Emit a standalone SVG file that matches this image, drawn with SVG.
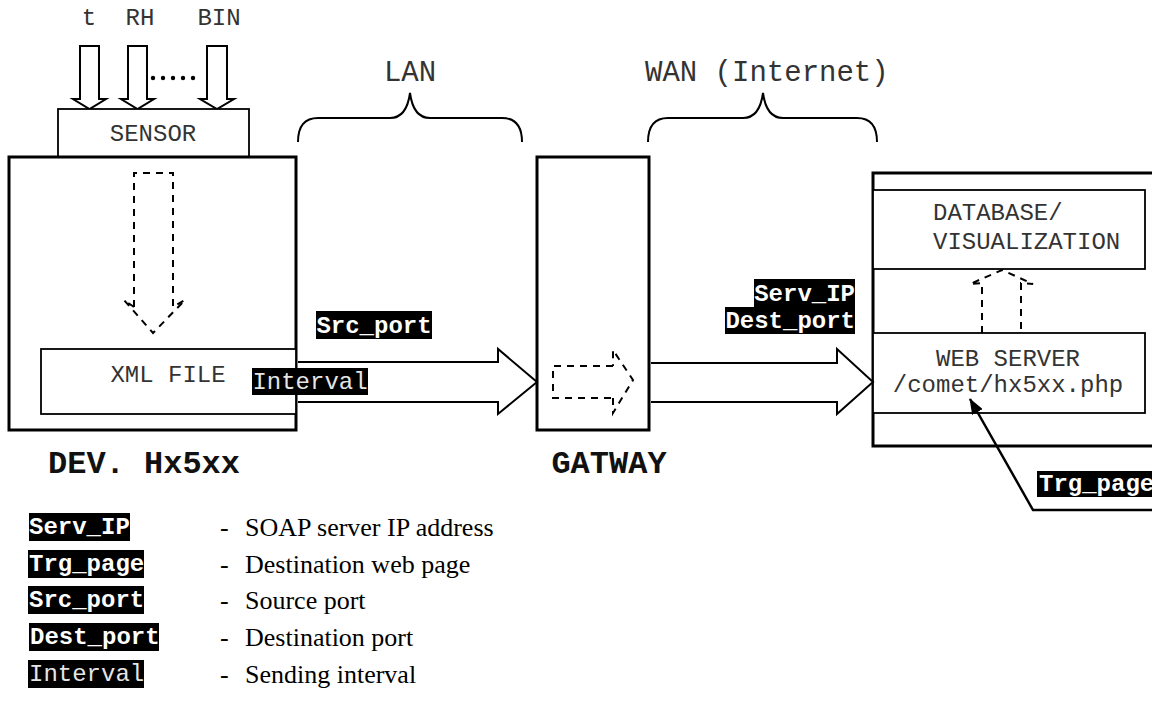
<svg xmlns="http://www.w3.org/2000/svg" width="1152" height="711" viewBox="0 0 1152 711">
<style>
.mono{font-family:"Liberation Mono","Courier New",monospace;fill:#333;font-size:24px}
.big{font-size:29px}
.bold{font-family:"Liberation Mono","Courier New",monospace;font-weight:bold;fill:#111;font-size:32px}
.tag{fill:#000}
.tagt{font-family:"Liberation Mono","Courier New",monospace;font-weight:bold;fill:#fff;font-size:24px}
.tagi{font-family:"Liberation Mono","Courier New",monospace;fill:#e6e6e6;font-size:24px}
.ser{font-family:"Liberation Serif","Times New Roman",serif;fill:#000;font-size:26px}
.box{fill:#fff;stroke:#000}
.thick{stroke-width:3}
.thin{stroke-width:1.8}
.ln{fill:none;stroke:#000;stroke-width:2}
.dash{fill:none;stroke:#000;stroke-width:2;stroke-dasharray:7,6}
.hollow{fill:#fff;stroke:#000;stroke-width:2;stroke-linejoin:miter}
</style>
<defs>
<marker id="ah" markerWidth="16" markerHeight="12" refX="15" refY="6" orient="auto" markerUnits="userSpaceOnUse" viewBox="0 0 16 12"><path d="M0,0 L16,6 L0,12 Z" fill="#000"/></marker>
</defs>
<rect width="1152" height="711" fill="#fff"/>

<g id="inputs">
<text class="mono" x="89" y="25" text-anchor="middle">t</text>
<text class="mono" x="140" y="25" text-anchor="middle">RH</text>
<text class="mono" x="219" y="25" text-anchor="middle">BIN</text>
<path class="hollow" d="M80,46 H99 V99 H106 L89.5,109 L73,99 H80 Z"/>
<path class="hollow" d="M128,46 H147 V99 H154 L137.5,109 L121,99 H128 Z"/>
<path class="hollow" d="M207,46 H227 V99 H234 L217,109 L200,99 H207 Z"/>
<g fill="#000"><circle cx="153" cy="78" r="2.2"/><circle cx="163" cy="78" r="2.2"/><circle cx="173" cy="78" r="2.2"/><circle cx="183" cy="78" r="2.2"/><circle cx="193" cy="78" r="2.2"/></g>
</g>

<g id="sensor">
<rect class="box thin" x="58" y="109" width="191" height="48"/>
<text class="mono" x="153" y="141" text-anchor="middle">SENSOR</text>
</g>

<g id="device">
<rect class="box thick" x="9" y="157" width="287" height="273"/>
<path class="dash" d="M134,307 V173 H173 V307 L185,300"/>
<path class="dash" d="M134,307 L124,300 L153,333 L185,300"/>
<rect class="box thin" x="41" y="349" width="255" height="65"/>
<text class="mono" x="168" y="382" text-anchor="middle">XML FILE</text>
<text class="bold" x="144" y="473" text-anchor="middle">DEV. Hx5xx</text>
</g>

<g id="gateway">
<rect class="box thick" x="537" y="157" width="112" height="273"/>
<path class="dash" d="M613,366 H553 V398 H613 M613,398 V413 L633,380 L613,350 V366"/>
<text class="bold" x="609" y="473" text-anchor="middle">GATWAY</text>
</g>

<g id="server">
<rect class="box thick" x="873" y="173" width="290" height="273"/>
<rect class="box thin" x="873" y="190" width="272" height="79"/>
<text class="mono" x="933" y="220">DATABASE/</text>
<text class="mono" x="933" y="249">VISUALIZATION</text>
<path class="dash" d="M982,333 V283 L970,284 L1002,270 L1033,284 L1021,283 V333"/>
<rect class="box thin" x="873" y="333" width="272" height="80"/>
<text class="mono" x="1008" y="366" text-anchor="middle">WEB SERVER</text>
<text class="mono" x="1008" y="392" text-anchor="middle">/comet/hx5xx.php</text>
</g>

<g id="connectors">
<path class="ln" d="M298,142 C298,125 305,118 318,118 L390,118 C402,118 408,108 410,93 C412,108 418,118 430,118 L502,118 C515,118 522,125 522,142"/>
<path class="ln" d="M648,142 C648,125 655,118 668,118 L743,118 C755,118 761,108 763,93 C765,108 771,118 783,118 L857,118 C870,118 877,125 877,142"/>
<path class="hollow" d="M298,362 H498 V349 L537,382 L498,414 V402 H298"/>
<path class="hollow" d="M651,363 H837 V349 L873,382 L837,414 V402 H651"/>
<polyline fill="none" stroke="#000" stroke-width="2.5" points="1152,510 1033,510 970,399" marker-end="url(#ah)"/>
</g>

<g id="lan-label"><text class="mono big" x="410" y="81" text-anchor="middle">LAN</text></g>
<g id="wan-label"><text class="mono big" x="645" y="81">WAN (Internet)</text></g>

<g id="src-port-tag">
<rect class="tag" x="316" y="311" width="116" height="28"/>
<text class="tagt" x="374" y="333" text-anchor="middle">Src_port</text>
</g>
<g id="interval-tag">
<rect class="tag" x="252" y="368" width="116" height="27"/>
<text class="tagi" x="310" y="389" text-anchor="middle">Interval</text>
</g>

<g id="serv-tags">
<rect class="tag" x="754" y="279" width="101" height="28"/>
<text class="tagt" x="855" y="301" text-anchor="end">Serv_IP</text>
<rect class="tag" x="725" y="307" width="130" height="27"/>
<text class="tagt" x="855" y="328" text-anchor="end">Dest_port</text>
</g>

<g id="trg-page-tag">
<rect class="tag" x="1037" y="471" width="125" height="26"/>
<text class="tagt" x="1039" y="491">Trg_page</text>
</g>

<g id="legend">
<rect class="tag" x="29" y="513" width="101" height="28"/>
<text class="tagt" x="29" y="534">Serv_IP</text>
<rect class="tag" x="28" y="550" width="116" height="28"/>
<text class="tagt" x="29" y="571">Trg_page</text>
<rect class="tag" x="28" y="586" width="116" height="28"/>
<text class="tagt" x="29" y="607">Src_port</text>
<rect class="tag" x="29" y="623" width="130" height="28"/>
<text class="tagt" x="30" y="644">Dest_port</text>
<rect class="tag" x="28" y="660" width="116" height="28"/>
<text class="tagi" x="29" y="681">Interval</text>
<text class="ser" x="220" y="536">-</text><text class="ser" x="245" y="536">SOAP server IP address</text>
<text class="ser" x="220" y="573">-</text><text class="ser" x="245" y="573">Destination web page</text>
<text class="ser" x="220" y="609">-</text><text class="ser" x="245" y="609">Source port</text>
<text class="ser" x="220" y="646">-</text><text class="ser" x="245" y="646">Destination port</text>
<text class="ser" x="220" y="683">-</text><text class="ser" x="245" y="683">Sending interval</text>
</g>
</svg>
